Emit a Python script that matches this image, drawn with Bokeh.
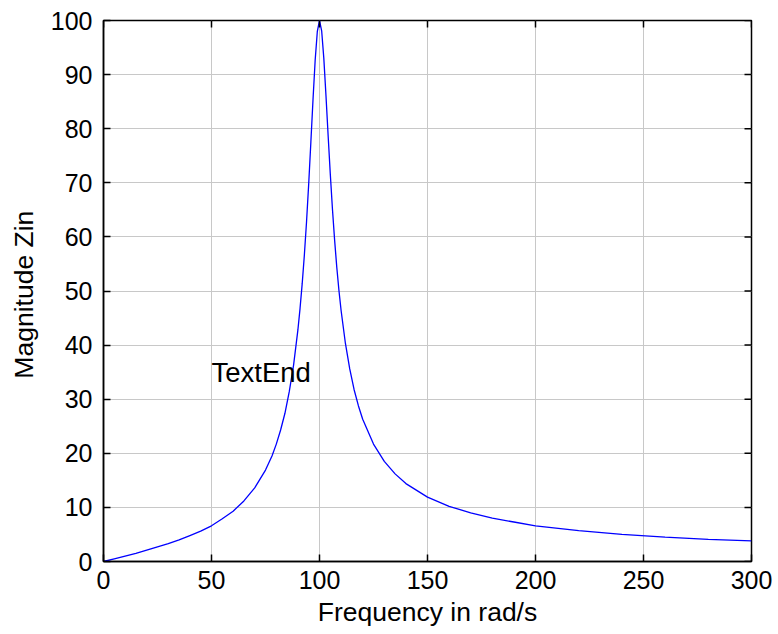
import math
from bokeh.plotting import figure
from bokeh.models import Range1d, FixedTicker, ColumnDataSource
from bokeh.core.properties import value
from bokeh.embed import file_html
from bokeh.resources import INLINE

# Data
freq = [0, 5, 10, 15, 20, 25, 30, 35, 40, 45, 50, 55, 60, 65, 70, 75, 78, 80, 82, 84,
        86, 88, 90, 91, 92, 93, 94, 95, 96, 97, 98, 99, 100, 101, 102, 103, 104, 105,
        106, 107, 108, 109, 110, 112, 114, 116, 118, 120, 125, 130, 135, 140, 150, 160,
        170, 180, 190, 200, 220, 240, 260, 280, 300]
mag = [0.0, 0.5, 1.0, 1.5, 2.1, 2.7, 3.3, 4.0, 4.8, 5.6, 6.6, 7.9, 9.3, 11.2, 13.6, 16.9,
       19.5, 21.7, 24.3, 27.4, 31.4, 36.3, 42.8, 46.8, 51.4, 56.7, 62.8, 69.8, 77.5, 85.4,
       92.7, 98.0, 100.0, 98.1, 93.0, 86.1, 78.7, 71.6, 65.1, 59.4, 54.4, 50.1, 46.4, 40.3,
       35.6, 31.8, 28.8, 26.3, 21.7, 18.5, 16.2, 14.4, 11.9, 10.2, 9.0, 8.0, 7.3, 6.6, 5.7,
       5.0, 4.5, 4.1, 3.8]
x_ticks = [0, 50, 100, 150, 200, 250, 300]
y_ticks = [0, 10, 20, 30, 40, 50, 60, 70, 80, 90, 100]
x_label = "Frequency in rad/s"
y_label = "Magnitude  Zin"
note_x = [50]
note_y = [35]
note_text = ["TextEnd"]

FONT = "Liberation Sans"
X_MIN, X_MAX = x_ticks[0], x_ticks[-1]
Y_MIN, Y_MAX = y_ticks[0], y_ticks[-1]

p = figure(width=778, height=634, x_range=Range1d(X_MIN, X_MAX), y_range=Range1d(Y_MIN, Y_MAX),
           output_backend="svg", toolbar_location=None,
           min_border_left=103, min_border_right=27, min_border_top=20, min_border_bottom=73)
p.background_fill_color = "white"
p.border_fill_color = "white"
p.outline_line_color = "black"
p.outline_line_width = 1.5

p.xgrid.ticker = FixedTicker(ticks=x_ticks)
p.ygrid.ticker = FixedTicker(ticks=y_ticks)
for g in (p.xgrid[0], p.ygrid[0]):
    g.grid_line_color = "#c8c8c8"
    g.grid_line_width = 1

p.line(x=freq, y=mag, line_color="#0000ff", line_width=1.3)

src = ColumnDataSource(dict(x=note_x, y=note_y, t=note_text))
p.text(x="x", y="y", text="t", source=src, text_font=value(FONT), text_font_size="27.5px",
       text_baseline="middle", text_align="left", text_color="black")

# inward tick marks on the top and right edges of the box (clipped to the frame)
p.scatter(x=x_ticks, y=[Y_MAX] * len(x_ticks), marker="dash", size=14, angle=math.pi / 2,
          line_color="black", line_width=1.5)
p.scatter(x=[X_MAX] * len(y_ticks), y=y_ticks, marker="dash", size=14,
          line_color="black", line_width=1.5)

for ax, ticks in ((p.xaxis[0], x_ticks), (p.yaxis[0], y_ticks)):
    ax.ticker = FixedTicker(ticks=ticks)
    ax.axis_line_color = "black"
    ax.axis_line_width = 1.5
    ax.major_tick_line_color = "black"
    ax.major_tick_line_width = 1.5
    ax.major_tick_in = 7
    ax.major_tick_out = 0
    ax.minor_tick_line_color = None
    ax.major_label_text_font = FONT
    ax.major_label_text_color = "black"
    ax.major_label_text_font_size = "25px"
    ax.axis_label_text_font = FONT
    ax.axis_label_text_font_size = "26.5px"
    ax.axis_label_text_font_style = "normal"
    ax.axis_label_text_color = "black"

p.xaxis[0].major_label_standoff = 9
p.yaxis[0].major_label_standoff = 11
p.xaxis[0].axis_label = x_label
p.yaxis[0].axis_label = y_label
p.xaxis[0].axis_label_standoff = 5
p.yaxis[0].axis_label_standoff = 9

open("out.html", "w").write(file_html(p, INLINE))
